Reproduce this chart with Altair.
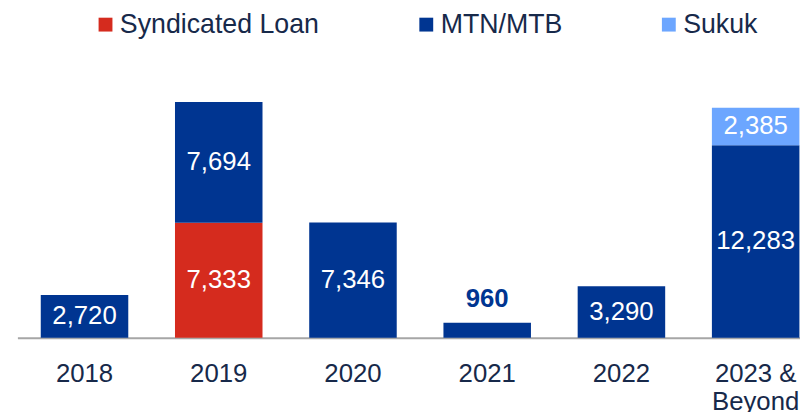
import altair as alt
import pandas as pd

categories = ["2018", "2019", "2020", "2021", "2022", "2023 & Beyond"]
series = ["Syndicated Loan", "MTN/MTB", "Sukuk"]
syndicated = [0, 7333, 0, 0, 0, 0]
mtn = [2720, 7694, 7346, 960, 3290, 12283]
sukuk = [0, 0, 0, 0, 0, 2385]
colors = ["#D52B1E", "#003591", "#6CA6FF"]

rows = []
for i, c in enumerate(categories):
    for k, (s, vals) in enumerate(zip(series, [syndicated, mtn, sukuk])):
        if vals[i] > 0:
            rows.append({"cat": c, "series": s, "value": vals[i], "order": k})
df = pd.DataFrame(rows)

FONT = "Liberation Sans"
TXT = "#17294A"

xenc = alt.X(
    "cat:N",
    sort=categories,
    scale=alt.Scale(range=[9.5, 823], paddingInner=0.348, paddingOuter=0.174),
    axis=alt.Axis(
        title=None,
        labelAngle=0,
        ticks=False,
        domainColor="#A6A6A6",
        domainWidth=2,
        labelFontSize=26,
        labelFont=FONT,
        labelColor=TXT,
        labelPadding=23,
        labelLineHeight=29,
        labelExpr="datum.label == '2023 & Beyond' ? ['2023 &', 'Beyond'] : datum.label",
    ),
)
yscale = alt.Scale(domain=[0, 20900], nice=False, zero=True)

base = (
    alt.Chart(df)
    .transform_stack(
        stack="value",
        groupby=["cat"],
        sort=[alt.SortField("order", order="ascending")],
        as_=["y0", "y1"],
    )
    .transform_calculate(mid="(datum.y0 + datum.y1) / 2")
)

bars = base.mark_bar().encode(
    x=xenc,
    y=alt.Y("y0:Q", scale=yscale, axis=None),
    y2="y1:Q",
    color=alt.Color(
        "series:N",
        scale=alt.Scale(domain=series, range=colors),
        legend=alt.Legend(
            title=None,
            orient="none",
            legendX=85,
            legendY=1,
            direction="horizontal",
            symbolType="square",
            symbolSize=196,
            symbolStrokeWidth=0,
            symbolOpacity=1,
            labelFontSize=27,
            labelFont=FONT,
            labelColor=TXT,
            labelOffset=1,
            labelLimit=400,
            columnPadding=94,
        ),
    ),
)

inner = base.transform_filter("datum.value >= 1500").mark_text(
    color="white", fontSize=26, font=FONT, baseline="middle"
).encode(
    x=alt.X("cat:N", sort=categories),
    y=alt.Y("mid:Q", scale=yscale),
    text=alt.Text("value:Q", format=",.0f"),
)

outer = base.transform_filter("datum.value < 1500").mark_text(
    color="#003591", fontSize=26, font=FONT, fontWeight="bold", baseline="middle", dy=-24
).encode(
    x=alt.X("cat:N", sort=categories),
    y=alt.Y("y1:Q", scale=yscale),
    text=alt.Text("value:Q", format=",.0f"),
)

chart = (
    alt.layer(bars, inner, outer)
    .properties(
        width=800,
        height=331,
        autosize=alt.AutoSizeParams(type="none"),
        padding={"left": 0, "top": 0, "right": 0, "bottom": 73},
    )
    .configure_view(stroke=None)
)

chart.save("out.html", embed_options={"renderer": "svg", "actions": False})
